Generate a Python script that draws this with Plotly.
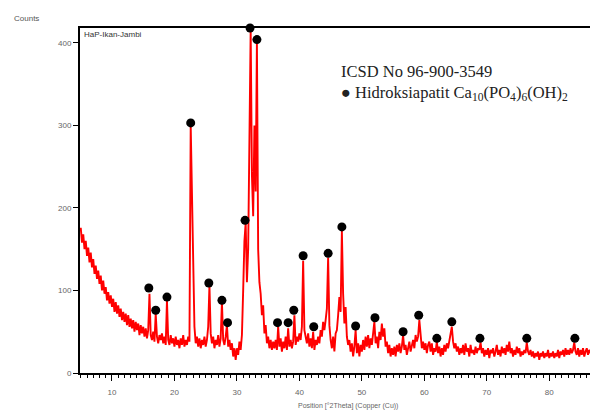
import plotly.graph_objects as go

# ---- data ----
two_theta_start = 5.0
two_theta_step = 0.2
counts = [
    176, 158, 168, 150, 160,   # 5
    142, 152, 134, 146, 128,   # 6
    138, 120, 130, 114, 124,   # 7
    108, 118, 100, 112, 96,    # 8
    104, 88, 98, 84, 94,       # 9
    80, 90, 74, 86, 72,        # 10
    82, 68, 78, 64, 74,        # 11
    62, 72, 58, 70, 56,        # 12
    66, 54, 64, 50, 62,        # 13
    52, 60, 46, 58, 48,        # 14
    56, 44, 54, 42, 52,        # 15
    96, 46, 40, 50, 38,        # 16
    72, 44, 36, 46, 40,        # 17
    48, 36, 44, 34, 88,        # 18
    40, 34, 46, 36, 42,        # 19
    32, 44, 34, 40, 30,        # 20
    42, 34, 46, 32, 40,        # 21
    34, 44, 38, 300, 200,      # 22
    128, 56, 36, 44, 32,       # 23
    42, 30, 40, 34, 44,        # 24
    32, 40, 56, 106, 48,       # 25
    36, 44, 30, 40, 34,        # 26
    46, 32, 42, 86, 40,        # 27
    34, 44, 58, 32, 40,        # 28
    28, 36, 20, 30, 16,        # 29
    30, 22, 38, 28, 46,        # 30
    100, 160, 182, 110, 150,   # 31
    300, 416, 240, 190, 300,   # 32
    220, 402, 150, 110, 96,    # 33
    70, 82, 48, 58, 36,        # 34
    44, 30, 40, 28, 38,        # 35
    30, 40, 28, 56, 32,        # 36
    42, 26, 38, 30, 44,        # 37
    28, 54, 32, 40, 30,        # 38
    38, 70, 34, 44, 38,        # 39
    48, 40, 56, 136, 52,       # 40
    44, 36, 48, 32, 42,        # 41
    30, 50, 28, 40, 34,        # 42
    44, 36, 52, 44, 62,        # 43
    52, 64, 78, 140, 58,       # 44
    40, 30, 44, 26, 48,        # 45
    52, 70, 92, 74, 172,       # 46
    96, 60, 80, 44, 34,        # 47
    40, 26, 36, 20, 32,        # 48
    52, 24, 36, 20, 34,        # 49
    26, 40, 28, 44, 32,        # 50
    46, 30, 42, 34, 48,        # 51
    62, 36, 44, 30, 50,        # 52
    40, 60, 44, 54, 32,        # 53
    38, 24, 34, 20, 30,        # 54
    22, 32, 20, 34, 26,        # 55
    36, 24, 32, 46, 28,        # 56
    34, 22, 30, 38, 26,        # 57
    34, 40, 30, 46, 38,        # 58
    44, 64, 42, 30, 38,        # 59
    28, 36, 24, 34, 38,        # 60
    26, 36, 22, 30, 26,        # 61
    38, 24, 32, 20, 30,        # 62
    22, 34, 26, 36, 30,        # 63
    40, 48, 56, 38, 30,        # 64
    36, 26, 32, 22, 30,        # 65
    24, 34, 22, 36, 26,        # 66
    30, 20, 34, 24, 28,        # 67
    22, 32, 24, 30, 28,        # 68
    37, 24, 30, 20, 28,        # 69
    22, 30, 18, 28, 24,        # 70
    30, 20, 26, 34, 22,        # 71
    28, 20, 32, 24, 30,        # 72
    22, 34, 26, 38, 24,        # 73
    30, 20, 28, 22, 32,        # 74
    24, 30, 20, 26, 22,        # 75
    28, 24, 37, 26, 22,        # 76
    28, 20, 26, 18, 24,        # 77
    20, 26, 16, 24, 20,        # 78
    26, 18, 24, 20, 28,        # 79
    18, 24, 20, 26, 18,        # 80
    24, 20, 28, 18, 26,        # 81
    22, 28, 20, 30, 22,        # 82
    28, 22, 30, 24, 28,        # 83
    37, 26, 22, 30, 20,        # 84
    28, 22, 30, 20, 26,        # 85
    30, 22, 28, 24, 30,        # 86
    22, 28, 20, 26, 24,        # 87
    30,                        # 88
]
two_theta = [round(two_theta_start + two_theta_step * i, 2) for i in range(len(counts))]

peak_x = [15.9, 17.0, 18.8, 22.6, 25.5, 27.6, 28.5, 31.3, 32.1, 33.2, 36.5, 38.2, 39.1,
          40.6, 42.3, 44.6, 46.8, 49.0, 52.1, 56.6, 59.1, 62.0, 64.4, 68.9, 76.4, 84.1]
peak_y = [103, 76, 92, 303, 109, 88, 61, 185, 418, 404, 61, 61, 76,
          142, 56, 145, 177, 57, 67, 50, 70, 42, 62, 42, 42, 42]

x_ticks = [10, 20, 30, 40, 50, 60, 70, 80]
y_ticks = [0, 100, 200, 300, 400]

fig = go.Figure()
fig.add_trace(go.Scatter(x=two_theta, y=counts, mode="lines",
                         line=dict(color="#ff0000", width=1.9), hoverinfo="skip"))
fig.add_trace(go.Scatter(x=peak_x, y=peak_y, mode="markers", cliponaxis=False,
                         marker=dict(color="black", size=9)))

tick_font = dict(family="Liberation Sans", size=8, color="#666666")
# page body has an 8px margin, so the figure is 590x406 to fill the 598x414 window
fig.update_layout(
    width=590, height=406,
    margin=dict(l=72, r=0, t=20, b=41),
    paper_bgcolor="white", plot_bgcolor="white",
    showlegend=False,
    xaxis=dict(range=[4.88, 87.8], tickvals=x_ticks, ticks="outside", ticklen=6,
               tickcolor="black", tickwidth=1, showline=True, linecolor="black",
               linewidth=2, mirror=True, showgrid=False, zeroline=False,
               tickfont=tick_font, ticklabelstandoff=4,
               minor=dict(dtick=1, ticks="outside", ticklen=3, tickcolor="black", tickwidth=1)),
    yaxis=dict(range=[0, 418], tickvals=y_ticks, ticks="outside", ticklen=5,
               tickcolor="black", tickwidth=1, showline=True, linecolor="black",
               linewidth=2, showgrid=False, zeroline=False, tickfont=tick_font),
)

# helpers: page pixel -> paper coordinates (plot area spans page x 80..598, y 28..373)
def px_x(p):
    return (p - 80) / 518.0

def px_y(p):
    return (373 - p) / 345.0

fig.add_annotation(text="Counts", xref="paper", yref="paper", x=px_x(12), y=px_y(18),
                   xanchor="left", yanchor="middle", showarrow=False,
                   font=dict(family="Liberation Sans", size=8, color="#555555"))
fig.add_annotation(text="HaP-Ikan-Jambi", xref="paper", yref="paper", x=px_x(82), y=px_y(35),
                   xanchor="left", yanchor="middle", showarrow=False,
                   font=dict(family="Liberation Sans", size=8, color="#333333"))
fig.add_annotation(text="ICSD No 96-900-3549", xref="paper", yref="paper", x=px_x(339), y=px_y(72),
                   xanchor="left", yanchor="middle", showarrow=False,
                   font=dict(family="Liberation Serif", size=16.5, color="#222222"))
fig.add_annotation(text="● Hidroksiapatit Ca<sub>10</sub>(PO<sub>4</sub>)<sub>6</sub>(OH)<sub>2</sub>",
                   xref="paper", yref="paper", x=px_x(339), y=px_y(93),
                   xanchor="left", yanchor="middle", showarrow=False,
                   font=dict(family="Liberation Serif", size=16.5, color="#222222"))
fig.add_annotation(text="Position [°2Theta] (Copper (Cu))", xref="paper", yref="paper",
                   x=px_x(296), y=px_y(406), xanchor="left", yanchor="middle", showarrow=False,
                   font=dict(family="Liberation Sans", size=7, color="#666666"))

fig.write_html("out.html")
